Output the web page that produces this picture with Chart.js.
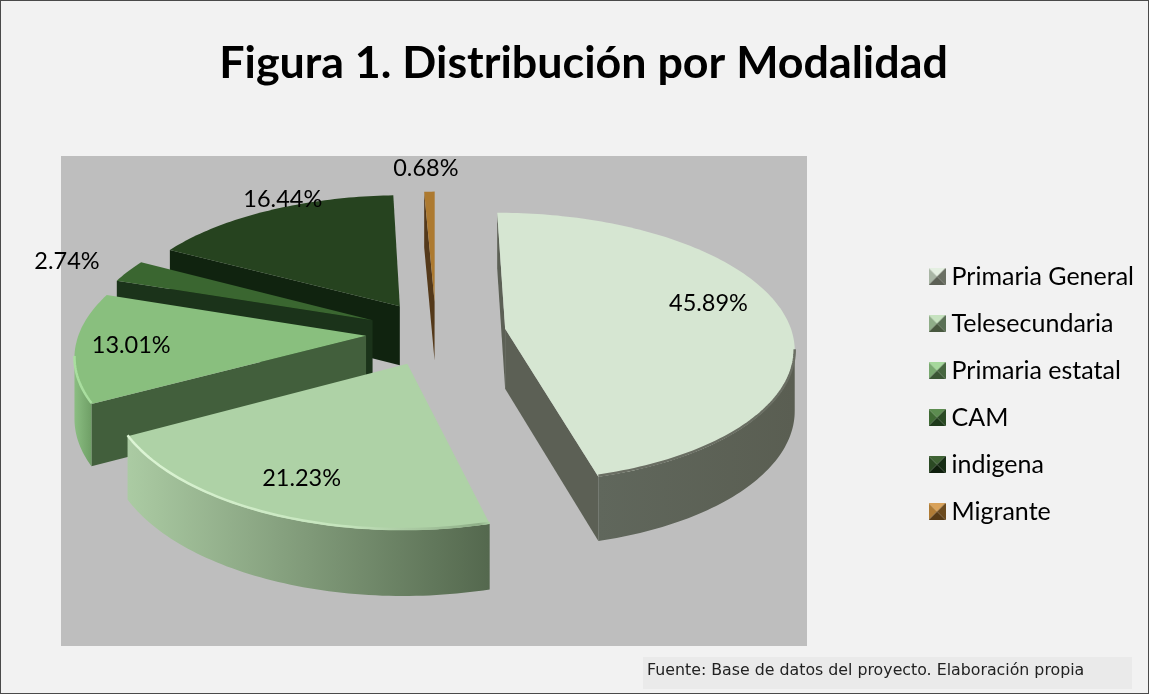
<!DOCTYPE html>
<html><head><meta charset="utf-8">
<style>html,body{margin:0;padding:0;background:#f2f2f2}canvas{display:block}</style>
<script src="https://cdn.jsdelivr.net/npm/chart.js@4"></script>
</head><body>
<div style="width:1149px;height:694px;position:relative"><canvas id="c" width="1149" height="694"></canvas></div>
<script>
const titleText = 'Figura 1. Distribución por Modalidad';
const sourceText = 'Fuente: Base de datos del proyecto. Elaboración propia';
const categories = ['Primaria General','Telesecundaria','Primaria estatal','CAM','indigena','Migrante'];
const percentages = [45.89,21.23,13.01,2.74,16.44,0.68];

const faceColors = ['#D6E6D2','#AED2A6','#89BF7E','#3A6630','#26431F','#AD7A30'];
const sideColors = ['#5C6055','#5C7656','#425F3C','#1B331A','#10230F','#54391A'];
const rimColors  = [['#6A6E63','#6A6E63'],['#DDF5D5','#7A9A72'],['#A9DE9F','#A9DE9F'],null,null,null];
const wallStops  = [['#60675C','#5A5E52'],['#ABCBA3','#54684E'],['#8BBE82','#6F9F66'],['#1B331A','#1B331A'],['#10230F','#10230F'],['#54391A','#54391A']];
const legendBevel = [
 ['#E4EFE1','#A9B6A5','#6A6F63','#5C6055'],
 ['#C6E2BF','#8FAD88','#5A7055','#48583F'],
 ['#A6D89C','#79A970','#46663F','#3A5634'],
 ['#5C8C50','#3F6A34','#2A4A24','#1E3A1A'],
 ['#3F6334','#2B4A24','#172C14','#0E1E0C'],
 ['#D9A25A','#B07C35','#6B4A1E','#573B16']];
const labelNudges = [[8,-14],[-13,14],[-32,1],[-132,-24],[-23,-38],[-5,-53]];

// projection style of the tilted pie
const view = {cx:436, cy:333, tilt:.465, persp:.14, xPersp:.13, depth:60, labelAt:.7};
const plotRect = {l:61,t:156,r:807,b:646};
const noteRect = {l:643,t:657,r:1132,b:689};

function project(u,v,R,drop){
  const w = 1/(1 - view.persp*v/R), wx = 1/(1 - view.xPersp*v/R);
  return {x:view.cx+u*wx, y:view.cy+view.tilt*v*w+(drop?view.depth*Math.sqrt(w):0)};
}
function bevel(c){
  const s=17, k=document.createElement('canvas'); k.width=k.height=s;
  const g=k.getContext('2d'), a=s/2;
  const tri=(col,p)=>{g.fillStyle=col;g.beginPath();p.forEach((q,i)=>i?g.lineTo(q[0],q[1]):g.moveTo(q[0],q[1]));g.closePath();g.fill();};
  tri(c[0],[[0,0],[s,0],[a,a]]);
  tri(c[1],[[0,0],[a,a],[0,s]]);
  tri(c[2],[[s,0],[s,s],[a,a]]);
  tri(c[3],[[0,s],[a,a],[s,s]]);
  return k;
}
const markers = legendBevel.map(bevel);

function poly(ctx,pts,fill){
  ctx.fillStyle=fill;ctx.beginPath();
  pts.forEach((p,i)=>i?ctx.lineTo(p.x,p.y):ctx.moveTo(p.x,p.y));
  ctx.closePath();ctx.fill();
}
const tiltedPie = {
  id:'tiltedPie',
  beforeDraw(chart){
    const c=chart.ctx;c.save();
    c.fillStyle='#F2F2F2';c.fillRect(0,0,chart.width,chart.height);
    c.strokeStyle='#4a4a4a';c.lineWidth=1;c.strokeRect(.5,.5,chart.width-1,chart.height-1);
    c.fillStyle='#BEBEBE';c.fillRect(plotRect.l,plotRect.t,plotRect.r-plotRect.l,plotRect.b-plotRect.t);
    c.fillStyle='#EAEAEA';c.fillRect(noteRect.l,noteRect.t,noteRect.r-noteRect.l,noteRect.b-noteRect.t);
    c.fillStyle='#222';c.font='15.8px "DejaVu Sans"';c.textBaseline='middle';c.textAlign='left';
    c.fillText(sourceText,noteRect.l+4,noteRect.t+14);
    c.restore();
  },
  beforeDatasetsDraw(chart){
    const ctx=chart.ctx, arcs=chart.getDatasetMeta(0).data;
    const items=arcs.map((arc,i)=>{
      const R=arc.outerRadius, off=arc.options.offset, s=arc.startAngle, e=arc.endAngle, m=(s+e)/2;
      const ou=off*Math.cos(m), ov=off*Math.sin(m);
      return {i,R,s,e,m,ou,ov};
    }).sort((a,b)=>a.ov-b.ov);
    items.forEach(o=>{
      const {i,R,s,e,ou,ov}=o;
      const n=Math.max(3,Math.ceil((e-s)/0.02));
      const top=[],low=[];
      for(let k=0;k<=n;k++){const a=s+(e-s)*k/n,u=ou+R*Math.cos(a),v=ov+R*Math.sin(a);
        top.push(project(u,v,R,false));low.push(project(u,v,R,true));}
      const P=project(ou,ov,R,false),Pl=project(ou,ov,R,true);
      const M=project(ou+.5*R*Math.cos(o.m),ov+.5*R*Math.sin(o.m),R,false);
      const wall=(Q,Ql)=>{
        const dx=Q.x-P.x;
        if(Math.abs(dx)<.01) return;
        const ly=P.y+(M.x-P.x)/dx*(Q.y-P.y);
        if(M.y<ly) poly(ctx,[P,Q,Ql,Pl],sideColors[i]);
      };
      wall(top[0],low[0]);wall(top[n],low[n]);
      const vis=[];
      for(let k=0;k<n;k++){ if(top[k+1].x<top[k].x) vis.push(k); }
      if(vis.length){
        const a=vis[0],b=vis[vis.length-1]+1;
        const tp=top.slice(a,b+1),lp=low.slice(a,b+1);
        const x0=Math.min(...tp.map(p=>p.x)),x1=Math.max(...tp.map(p=>p.x));
        const g=ctx.createLinearGradient(x0,0,x1,0);
        g.addColorStop(0,wallStops[i][0]);g.addColorStop(1,wallStops[i][1]);
        poly(ctx,tp.concat(lp.reverse()),g);
      }
      poly(ctx,[P].concat(top),faceColors[i]);
      if(vis.length&&rimColors[i]){
        const a=vis[0],b=vis[vis.length-1]+1,tp=top.slice(a,b+1);
        const x0=Math.min(...tp.map(p=>p.x)),x1=Math.max(...tp.map(p=>p.x));
        const g=ctx.createLinearGradient(x0,0,x1,0);
        g.addColorStop(0,rimColors[i][1]);g.addColorStop(1,rimColors[i][0]);
        if(i===1){const h=ctx.createLinearGradient(x0,0,x1,0);h.addColorStop(0,rimColors[i][0]);h.addColorStop(.6,'#C4E4BC');h.addColorStop(.97,'#8FAF88');h.addColorStop(1,'#AED2A6');ctx.strokeStyle=h;}
        else ctx.strokeStyle=g;
        ctx.lineWidth=2.5;ctx.lineJoin='round';ctx.beginPath();
        tp.forEach((p,k)=>k?ctx.lineTo(p.x,p.y-1):ctx.moveTo(p.x,p.y-1));ctx.stroke();
      }
    });
    return false;
  },
  afterDraw(chart){
    const ctx=chart.ctx, arcs=chart.getDatasetMeta(0).data;
    ctx.save();ctx.fillStyle='#000';ctx.font='23.5px Lato';ctx.textAlign='center';ctx.textBaseline='middle';
    arcs.forEach((arc,i)=>{
      const R=arc.outerRadius,off=arc.options.offset,m=(arc.startAngle+arc.endAngle)/2;
      const r=off+view.labelAt*R;
      const p=project(r*Math.cos(m),r*Math.sin(m),R,false);
      ctx.fillText(percentages[i].toFixed(2)+'%',p.x+labelNudges[i][0],p.y+labelNudges[i][1]);
    });
    ctx.restore();
  }
};
new Chart(document.getElementById('c'),{
  type:'pie',
  data:{labels:categories,datasets:[{data:percentages,backgroundColor:faceColors,borderWidth:0,offset:70}]},
  options:{
    responsive:false,animation:false,radius:287,
    layout:{padding:{left:23,right:5,top:37,bottom:-57}},
    plugins:{
      tooltip:{enabled:false},
      title:{display:true,text:titleText,color:'#000',font:{family:'Lato',weight:'bold',size:44.8},padding:{top:0,bottom:10}},
      legend:{display:true,position:'right',
        labels:{usePointStyle:true,pointStyleWidth:4,padding:22,color:'#000',font:{family:'Lato',size:25},
          generateLabels(chart){
            const base=Chart.overrides.pie.plugins.legend.labels.generateLabels(chart);
            base.forEach((it,i)=>{it.pointStyle=markers[i];});
            return base;
          }}}
    }
  },
  plugins:[tiltedPie]
});
</script>
</body></html>
